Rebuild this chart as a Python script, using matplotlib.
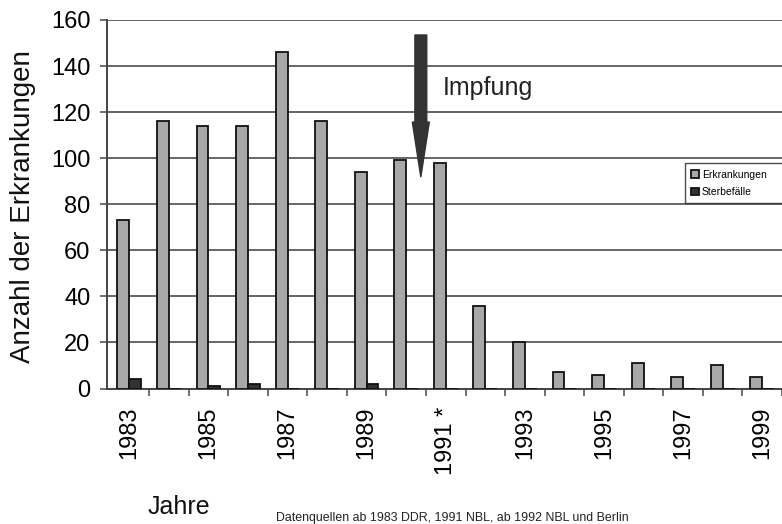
import matplotlib
matplotlib.use("Agg")
import matplotlib.pyplot as plt
import numpy as np
from matplotlib.patches import Polygon

plt.rcParams['font.family'] = ['Liberation Sans', 'DejaVu Sans']

years = [1983, 1984, 1985, 1986, 1987, 1988, 1989, 1990, 1991,
         1992, 1993, 1994, 1995, 1996, 1997, 1998, 1999]
tick_labels = ['1983', '', '1985', '', '1987', '', '1989', '', '1991 *',
               '', '1993', '', '1995', '', '1997', '', '1999']
erkrankungen = [73, 116, 114, 114, 146, 116, 94, 99, 98,
                36, 20, 7, 6, 11, 5, 10, 5]
sterbefaelle = [4, 0, 1, 2, 0, 0, 2, 0, 0,
                0, 0, 0, 0, 0, 0, 0, 0]
series_names = ['Erkrankungen', 'Sterbefälle']

# annotation (vaccination arrow)
arrow_x = 7.37
arrow_top, arrow_head, arrow_tip = 153.5, 115.7, 91.8
impfung_label = 'Impfung'

W, H = 782, 524
fig = plt.figure(figsize=(W / 100, H / 100), dpi=100)
ax = fig.add_axes([107 / W, 1 - 388.5 / H, (W - 107) / W, 368.5 / H])

x = np.arange(len(years))
bw = 0.3
ax.bar(x - bw / 2, erkrankungen, bw, color='#a8a8a8', edgecolor='#111111',
       linewidth=1.3, zorder=3, label=series_names[0])
ax.bar(x + bw / 2, sterbefaelle, bw, color='#333333', edgecolor='#111111',
       linewidth=1.3, zorder=3, label=series_names[1])

ax.set_xlim(-0.563, 16.38)
ax.set_ylim(0, 160)
ax.set_yticks(np.arange(0, 161, 20))
ax.tick_params(axis='y', labelsize=17, length=5, width=1.2, color='#555555', pad=7)
ax.yaxis.grid(True, color='#666666', linewidth=1.4, zorder=0)
ax.set_axisbelow(True)

# category boundary ticks (major) and labels at centers (minor)
ax.set_xticks(np.arange(len(years)) + 0.5)
ax.set_xticklabels([])
ax.tick_params(axis='x', which='major', length=5, width=1.2, color='#555555')
ax.set_xticks(x, minor=True)
ax.set_xticklabels(tick_labels, minor=True, rotation=90, fontsize=17, va='top')
ax.tick_params(axis='x', which='minor', length=0, pad=13)

for s in ['top', 'right']:
    ax.spines[s].set_visible(False)
for s in ['left', 'bottom']:
    ax.spines[s].set_color('#444444')
    ax.spines[s].set_linewidth(1.4)

# arrow
sw, hw = 0.15, 0.215
poly = Polygon([(arrow_x - sw, arrow_top), (arrow_x + sw, arrow_top),
                (arrow_x + sw, arrow_head), (arrow_x + hw, arrow_head),
                (arrow_x, arrow_tip), (arrow_x - hw, arrow_head),
                (arrow_x - sw, arrow_head)], closed=True,
               facecolor='#333333', edgecolor='#333333', zorder=5)
ax.add_patch(poly)
ax.text(7.92, 130.5, impfung_label, fontsize=18, va='center', ha='left', color='#222222')

leg = fig.legend(loc='upper left', bbox_to_anchor=(685 / W, 1 - 164 / H, 0.2, 0.001),
                 mode='expand', fontsize=7.5, frameon=True, fancybox=False,
                 handlelength=0.7, handleheight=0.7, handletextpad=0.3,
                 borderpad=0.6, labelspacing=0.7, borderaxespad=0)
leg.get_frame().set_edgecolor('#222222')
leg.get_frame().set_linewidth(1.0)

fig.text(23 / W, 1 - 207 / H, 'Anzahl der Erkrankungen', rotation=90,
         fontsize=20, ha='center', va='center', color='#111111')
fig.text(179 / W, 1 - 507 / H, 'Jahre', fontsize=18, ha='center', va='center',
         color='#111111')
fig.text(452 / W, 1 - 518 / H,
         'Datenquellen ab 1983 DDR, 1991 NBL, ab 1992 NBL und Berlin',
         fontsize=8.9, ha='center', va='center', color='#222222')

fig.savefig('out.png', dpi=100)
